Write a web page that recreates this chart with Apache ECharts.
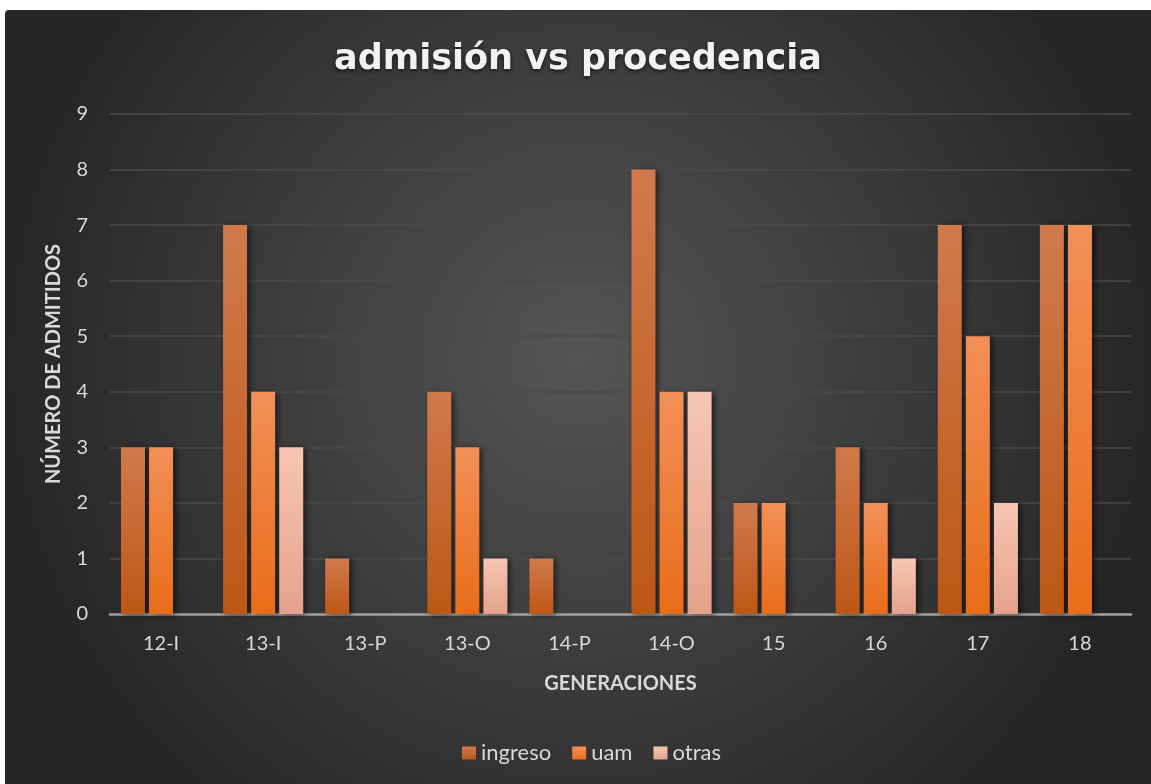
<!DOCTYPE html>
<html><head><meta charset="utf-8">
<script src="https://cdn.jsdelivr.net/npm/echarts@6/dist/echarts.min.js"></script>
<style>html,body{margin:0;padding:0;background:#fff;width:1151px;height:784px;overflow:hidden}
#c{position:absolute;left:5px;top:10px;width:1146px;height:774px;border-top-left-radius:4px;overflow:hidden}</style>
</head><body><div id="c"></div>
<script>
const categories = ['12-I','13-I','13-P','13-O','14-P','14-O','15','16','17','18'];
const ingreso = [3,7,1,4,1,8,2,3,7,7];
const uam = [3,4,0,3,0,4,2,2,5,7];
const otras = [0,3,0,1,0,4,0,1,2,0];
const yTicks = [0,1,2,3,4,5,6,7,8,9];

const FONT = 'Lato';
function grad(top, bottom){
  return new echarts.graphic.LinearGradient(0,0,0,1,[{offset:0,color:top},{offset:1,color:bottom}]);
}
const barShadow = {shadowBlur:6, shadowOffsetX:3, shadowOffsetY:1, shadowColor:'rgba(0,0,0,0.55)'};
const chart = echarts.init(document.getElementById('c'), null, {renderer:'canvas'});
chart.setOption({
  backgroundColor: new echarts.graphic.RadialGradient(0.5,0.45,0.75,[{offset:0,color:'#555555'},{offset:1,color:'#262626'}]),
  animation:false,
  title:{text:'admisión vs procedencia', left:'center', top:27,
    textStyle:{color:'#f2f2f2', fontFamily:'DejaVu Sans', fontWeight:'bold', fontSize:35,
      textShadowColor:'rgba(0,0,0,0.6)', textShadowBlur:4, textShadowOffsetY:2}},
  legend:{top:727, left:452, itemWidth:14, itemHeight:13, itemGap:21, itemTextGap:6,
    icon:'rect',
    textStyle:{color:'#d9d9d9', fontFamily:FONT, fontSize:22},
    data:['ingreso','uam','otras']},
  grid:{left:105, right:20, top:104, bottom:170},
  xAxis:{type:'category', data:categories,
    name:'GENERACIONES', nameLocation:'middle', nameGap:60,
    nameTextStyle:{color:'#d9d9d9', fontFamily:FONT, fontWeight:'bold', fontSize:20},
    axisLine:{lineStyle:{color:'#a0a0a0', width:2.5}},
    axisTick:{show:false},
    axisLabel:{color:'#d9d9d9', fontFamily:FONT, fontSize:20, margin:20}},
  yAxis:{type:'value', min:0, max:9, interval:1,
    name:'NÚMERO DE ADMITIDOS', nameLocation:'middle', nameGap:46,
    nameTextStyle:{color:'#d9d9d9', fontFamily:FONT, fontWeight:'bold', fontSize:20},
    axisLine:{show:false}, axisTick:{show:false},
    splitLine:{lineStyle:{color:'#4a4a4a', width:1.5}},
    axisLabel:{color:'#d9d9d9', fontFamily:FONT, fontSize:20, margin:22,
      formatter:(v)=> yTicks.includes(v) ? String(v) : ''}},
  series:[
    {name:'ingreso', type:'bar', data:ingreso, barWidth:24, barGap:'17%',
      itemStyle:Object.assign({color:grad('#d07a4c','#bd5716')}, barShadow)},
    {name:'uam', type:'bar', data:uam, barWidth:24, barGap:'17%',
      itemStyle:Object.assign({color:grad('#f38f58','#e86d18')}, barShadow)},
    {name:'otras', type:'bar', data:otras, barWidth:24, barGap:'17%',
      itemStyle:Object.assign({color:grad('#f7c6b3','#e5a28b')}, barShadow)}
  ]
});
</script></body></html>
